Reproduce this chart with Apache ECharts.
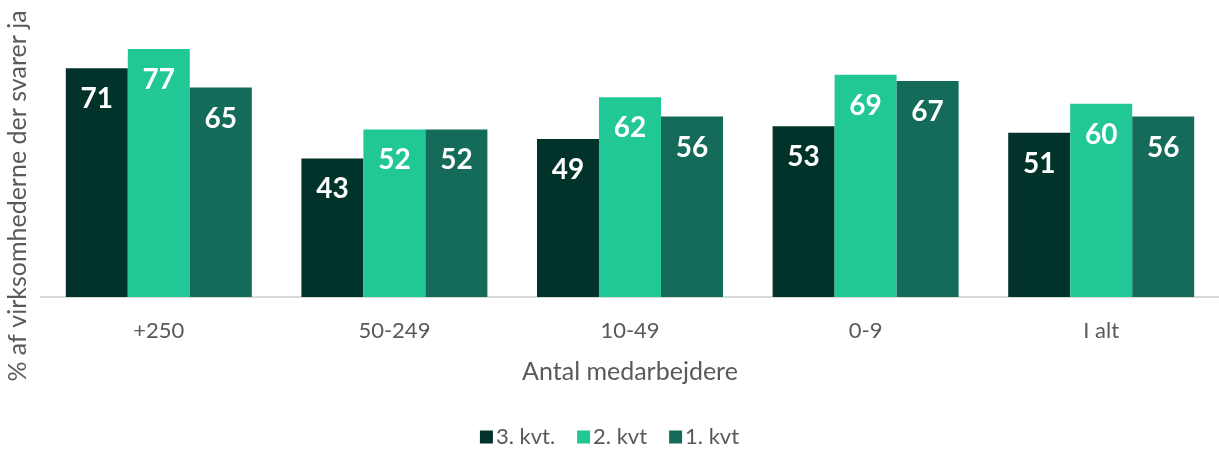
<!DOCTYPE html>
<html><head><meta charset="utf-8">
<script src="https://cdn.jsdelivr.net/npm/echarts@6/dist/echarts.min.js"></script>
<style>html,body{margin:0;padding:0;background:#fff}#c{width:1219px;height:450px}</style>
</head><body><div id="c"></div>
<script>
const categories = ['+250', '50-249', '10-49', '0-9', 'I alt'];
const seriesNames = ['3. kvt.', '2. kvt', '1. kvt'];
const q3 = [71, 43, 49, 53, 51];
const q2 = [77, 52, 62, 69, 60];
const q1 = [65, 52, 56, 67, 56];
const colors = ['#02332A', '#21C795', '#146B59'];
const FONT = 'Lato';

const chart = echarts.init(document.getElementById('c'));
function mk(name, data, color) {
  return {
    name, type: 'bar', data, barWidth: 62, barGap: '0%',
    itemStyle: { color },
    label: { show: true, position: 'insideTop', distance: 17, color: '#fff',
      fontFamily: FONT, fontWeight: 'bold', fontSize: 28 }
  };
}
chart.setOption({
  animation: false,
  textStyle: { fontFamily: FONT },
  grid: { left: 41, top: 7, width: 1182, height: 290, containLabel: false },
  legend: {
    top: 421, left: 'center', itemWidth: 13, itemHeight: 13, itemGap: 22,
    icon: 'rect',
    textStyle: { fontFamily: FONT, fontSize: 22, color: '#595959', padding: [0,0,0,-2] },
    data: seriesNames
  },
  xAxis: {
    type: 'category', data: categories,
    axisLine: { lineStyle: { color: '#D9D9D9', width: 2 } },
    axisTick: { show: false },
    axisLabel: { fontFamily: FONT, fontSize: 22, color: '#595959', margin: 23 },
    name: 'Antal medarbejdere', nameLocation: 'middle', nameGap: 62,
    nameTextStyle: { fontFamily: FONT, fontSize: 25, color: '#595959' }
  },
  yAxis: {
    type: 'value', min: 0, max: 90, show: false
  },
  graphic: [{
    type: 'text', x: 18, y: 196, rotation: Math.PI / 2,
    style: { text: '% af virksomhederne der svarer ja', fontFamily: FONT, fontSize: 25,
      fill: '#595959', align: 'center', verticalAlign: 'middle' }
  }],
  series: [mk(seriesNames[0], q3, colors[0]), mk(seriesNames[1], q2, colors[1]), mk(seriesNames[2], q1, colors[2])]
});
</script></body></html>
